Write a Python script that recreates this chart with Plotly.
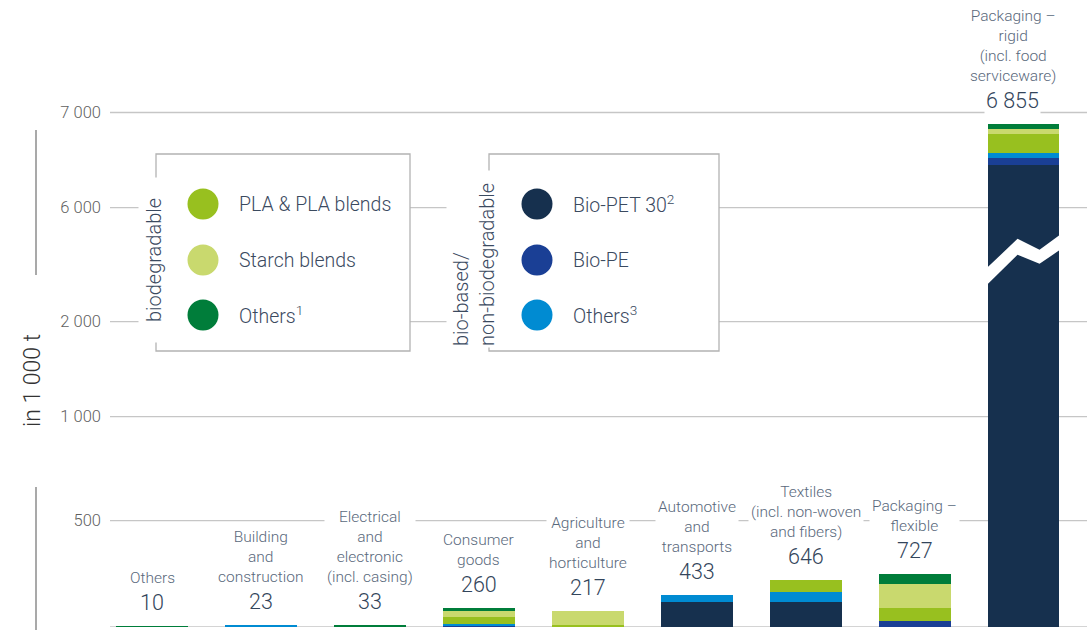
import plotly.graph_objects as go

# ---------------------------------------------------------------- data
categories = [
    "Others",
    "Building and construction",
    "Electrical and electronic (incl. casing)",
    "Consumer goods",
    "Agriculture and horticulture",
    "Automotive and transports",
    "Textiles (incl. non-woven and fibers)",
    "Packaging – flexible",
    "Packaging – rigid (incl. food serviceware)",
]
category_labels = [
    "Others",
    "Building<br>and<br>construction",
    "Electrical<br>and<br>electronic<br>(incl. casing)",
    "Consumer<br>goods",
    "Agriculture<br>and<br>horticulture",
    "Automotive<br>and<br>transports",
    "Textiles<br>(incl. non-woven<br>and fibers)",
    "Packaging –<br>flexible",
    "Packaging –<br>rigid<br>(incl. food<br>serviceware)",
]
totals = [10, 23, 33, 260, 217, 433, 646, 727, 6855]

# capacity by material, in 1 000 t (stacked bottom to top)
bio_pet = [0, 0, 0, 0, 0, 338, 336, 0, 6296]
bio_pe = [0, 0, 0, 24, 0, 0, 0, 82, 95]
others_non_bio = [0, 23, 0, 22, 0, 95, 148, 0, 68]
pla = [0, 0, 0, 95, 26, 0, 162, 178, 259]
starch = [0, 0, 0, 82, 191, 0, 0, 330, 78]
others_bio = [10, 0, 33, 37, 0, 0, 0, 137, 59]

y_tick_labels = ["0", "500", "1 000", "2 000", "6 000", "7 000"]

# ---------------------------------------------------------------- styling
FONT = "Roboto"
NAVY = "#16304e"
BIO_PE = "#1a3f95"
OTHERS3 = "#008bd2"
PLA = "#98c01f"
STARCH = "#c9d96e"
OTHERS1 = "#007d3a"
GRID = "#c6c6c6"
BOX = "#b3b3b3"
LABEL_COL = "#5a697c"
VALUE_COL = "#33455b"
LEGEND_COL = "#3b4a5f"

series = [
    ("Bio-PET 30", bio_pet, NAVY),
    ("Bio-PE", bio_pe, BIO_PE),
    ("Others (bio-based)", others_non_bio, OTHERS3),
    ("PLA & PLA blends", pla, PLA),
    ("Starch blends", starch, STARCH),
    ("Others (biodegradable)", others_bio, OTHERS1),
]

legend_groups = [
    ("biodegradable",
     [("PLA & PLA blends", PLA), ("Starch blends", STARCH), ("Others<sup>1</sup>", OTHERS1)]),
    ("bio-based/<br>non-biodegradable",
     [("Bio-PET 30<sup>2</sup>", NAVY), ("Bio-PE", BIO_PE), ("Others<sup>3</sup>", OTHERS3)]),
]

# ---------------------------------------------------------------- layout geometry
W_FIG, H_FIG = 1088, 630
M_L, M_R, M_T, M_B = 102, 10, 0, 3
PW = W_FIG - M_L - M_R
PH = H_FIG - M_T - M_B
Y_TOP = 8550                  # value at the top edge of the plot area
X_RANGE = [-0.459, 8.5]
BAR_W = 0.66
# decorative (broken) axis: where each tick label sits on the bar scale
TICK_POS = [0, 1450, 2869, 4165, 5720, 7016]


def px(x):
    """pixel column -> paper x"""
    return (x - M_L) / PW


def py(y):
    """pixel row -> paper y"""
    return (M_T + PH - y) / PH


fig = go.Figure()

for name, vals, col in series:
    fig.add_trace(go.Bar(
        x=categories, y=vals, name=name, width=BAR_W,
        marker=dict(color=col, line=dict(width=0)),
        showlegend=False, hoverinfo="x+y+name",
    ))

shapes = []

# horizontal guide lines
for t in TICK_POS:
    shapes.append(dict(type="line", xref="paper", yref="y",
                       x0=px(110), x1=px(1087), y0=t, y1=t,
                       line=dict(color=GRID, width=1.3), layer="below"))

# broken vertical axis segments
for y0, y1 in [(130, 275), (487, 632)]:
    shapes.append(dict(type="line", xref="paper", yref="paper",
                       x0=px(36), x1=px(36), y0=py(y0), y1=py(y1),
                       line=dict(color="#a9a9a9", width=2), layer="below"))

# legend boxes
box_x = [(156, 410), (489, 719)]
BOX_TOP, BOX_BOTTOM = 154, 351
for x0, x1 in box_x:
    shapes.append(dict(type="rect", xref="paper", yref="paper",
                       x0=px(x0), x1=px(x1), y0=py(BOX_BOTTOM), y1=py(BOX_TOP),
                       fillcolor="white", line=dict(color=BOX, width=1.3),
                       layer="below"))

# break mark across the tall bar
idx = len(categories) - 1
brk_top = [(-0.335, 4898), (-0.055, 5293), (0.147, 5143), (0.335, 5348)]
brk_bot = [(0.335, 5143), (0.147, 4952), (-0.055, 5075), (-0.335, 4666)]
pts = brk_top + brk_bot
path = "M " + " L ".join(f"{idx + dx},{yv}" for dx, yv in pts) + " Z"
shapes.append(dict(type="path", xref="x", yref="y", path=path,
                   fillcolor="white", line=dict(width=0), layer="above"))

# legend markers
legend_rows = [204, 260, 315]
circle_x = [203, 537]
text_x = [237, 571]
R = 15.5
for g, (_, items) in enumerate(legend_groups):
    for k, (_, col) in enumerate(items):
        cx, cy = circle_x[g], legend_rows[k]
        shapes.append(dict(type="circle", xref="paper", yref="paper",
                           x0=px(cx - R), x1=px(cx + R),
                           y0=py(cy + R), y1=py(cy - R),
                           fillcolor=col, line=dict(width=0), layer="above"))

annotations = []

# category names and values above the bars
for i, (cat, lab, tot) in enumerate(zip(categories, category_labels, totals)):
    xs = -11 if i == idx else 0
    annotations.append(dict(
        x=cat, y=tot, xref="x", yref="y", text=lab, showarrow=False,
        xanchor="center", yanchor="bottom", yshift=36, xshift=xs,
        font=dict(family=FONT, size=15.5, color=LABEL_COL, weight=300),
        bgcolor="white", borderpad=2, align="center"))
    annotations.append(dict(
        x=cat, y=tot, xref="x", yref="y",
        text=f"{tot:,}".replace(",", " "), showarrow=False,
        xanchor="center", yanchor="bottom", yshift=9, xshift=xs,
        font=dict(family=FONT, size=21.5, color=VALUE_COL, weight=300),
        bgcolor="white", borderpad=1))

# legend texts
for g, (title, items) in enumerate(legend_groups):
    for k, (lab, _) in enumerate(items):
        annotations.append(dict(
            x=px(text_x[g]), y=py(legend_rows[k]), xref="paper", yref="paper",
            text=lab, showarrow=False, xanchor="left", yanchor="middle",
            font=dict(family=FONT, size=19.5, color=LEGEND_COL, weight=300)))

# rotated group titles
annotations.append(dict(
    x=px(154), y=py(260), xref="paper", yref="paper", text=legend_groups[0][0],
    showarrow=False, textangle=-90, xanchor="center", yanchor="middle",
    width=162, height=28, bgcolor="white",
    font=dict(family=FONT, size=20, color=LEGEND_COL, weight=300)))
annotations.append(dict(
    x=px(474), y=py(259), xref="paper", yref="paper", text=legend_groups[1][0],
    showarrow=False, textangle=-90, xanchor="center", yanchor="middle",
    width=174, height=52, bgcolor="white", align="left",
    font=dict(family=FONT, size=20, color=LEGEND_COL, weight=300)))

# unit label
annotations.append(dict(
    x=px(33), y=py(381), xref="paper", yref="paper", text="in 1 000 t",
    showarrow=False, textangle=-90, xanchor="center", yanchor="middle",
    font=dict(family=FONT, size=23, color="#333333", weight=300)))

fig.update_layout(
    template="none",
    width=W_FIG, height=H_FIG,
    margin=dict(l=M_L, r=M_R, t=M_T, b=M_B, pad=0),
    paper_bgcolor="white", plot_bgcolor="white",
    barmode="stack", bargap=0,
    showlegend=False,
    font=dict(family=FONT),
    shapes=shapes,
    annotations=annotations,
    xaxis=dict(type="category", range=X_RANGE, showticklabels=False,
               showgrid=False, zeroline=False, showline=False, ticks="",
               automargin=False, fixedrange=True),
    yaxis=dict(range=[0, Y_TOP], tickmode="array", tickvals=TICK_POS,
               ticktext=y_tick_labels, showgrid=False, zeroline=False,
               showline=False, ticks="", automargin=False, fixedrange=True,
               tickfont=dict(family=FONT, size=16.5, color="#5f5f5f", weight=300)),
)

fig.write_html("out.html")
